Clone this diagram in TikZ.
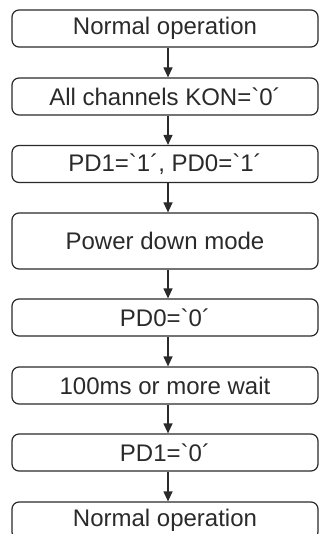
\documentclass[tikz,border=0pt]{standalone}
\usepackage{fontspec}
\setmainfont{Liberation Sans}[Ligatures=TeXOff]
\usetikzlibrary{arrows.meta}
\definecolor{ink}{HTML}{2A2A2A}
\newcommand{\gr}{\symbol{96}}
\begin{document}
\begin{tikzpicture}[x=1pt,y=-1pt,
  flowbox/.style={draw=ink, line width=1.2pt, rounded corners=7pt, minimum width=306pt,
    minimum height=37pt, inner sep=0pt, text=ink, font=\fontsize{24}{28}\selectfont},
  flowarrow/.style={draw=ink, line width=1.2pt, -{Triangle[length=10pt,width=9pt]}}]
\useasboundingbox (0,0) rectangle (320,534);
\clip (0,0) rectangle (320,534);
\node[flowbox] (b1) at (165,28.5) {Normal operation};
\node[flowbox] (b2) at (165,96.5) {All channels KON=\gr0´};
\node[flowbox] (b3) at (165,164) {PD1=\gr1´, PD0=\gr1´};
\node[flowbox, minimum height=56pt] (b4) at (165,241) {Power down mode};
\node[flowbox] (b5) at (165,317.5) {PD0=\gr0´};
\node[flowbox] (b6) at (165,385.5) {100ms or more wait};
\node[flowbox] (b7) at (165,452.5) {PD1=\gr0´};
\node[flowbox] (b8) at (165,520.5) {Normal operation};
\foreach \a/\b in {b1/b2,b2/b3,b3/b4,b4/b5,b5/b6,b6/b7,b7/b8}
  \draw[flowarrow] ([xshift=3pt]\a.south) -- ([xshift=3pt]\b.north);
\end{tikzpicture}
\end{document}
